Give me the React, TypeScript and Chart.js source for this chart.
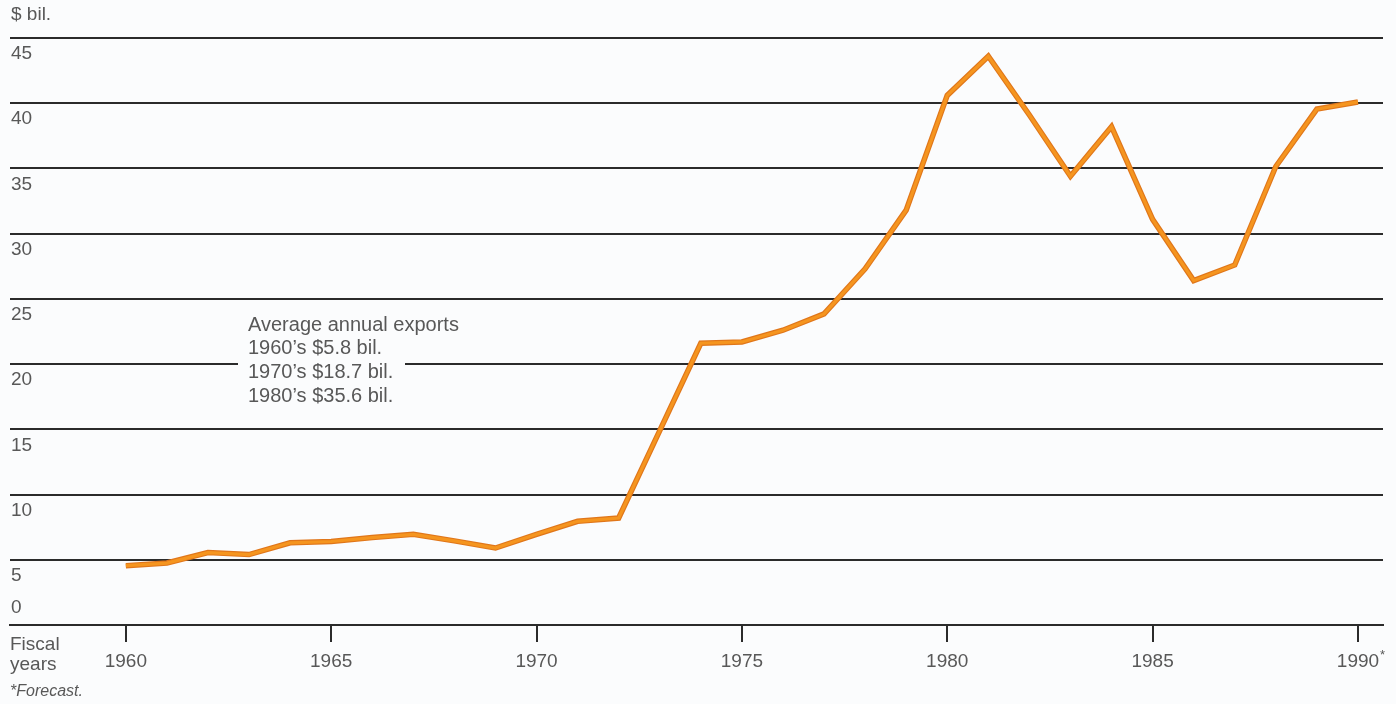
import React, { useEffect, useRef } from "react";
import { Chart, registerables } from "chart.js";

Chart.register(...registerables);

// Fiscal years and exports, $ billions
const years: number[] = [
  1960, 1961, 1962, 1963, 1964, 1965, 1966, 1967, 1968, 1969,
  1970, 1971, 1972, 1973, 1974, 1975, 1976, 1977, 1978, 1979,
  1980, 1981, 1982, 1983, 1984, 1985, 1986, 1987, 1988, 1989, 1990,
];
const exportsBil: number[] = [
  4.55, 4.75, 5.55, 5.4, 6.3, 6.4, 6.7, 6.95, 6.45, 5.9,
  6.95, 7.95, 8.2, 14.9, 21.6, 21.7, 22.6, 23.85, 27.3, 31.8,
  40.6, 43.6, 39.1, 34.4, 38.2, 31.1, 26.4, 27.6, 35.15, 39.55, 40.1,
];
const yTicks: number[] = [0, 5, 10, 15, 20, 25, 30, 35, 40, 45];
const xTicks: number[] = [1960, 1965, 1970, 1975, 1980, 1985, 1990];
const forecastYear = 1990;
const averageLines: string[] = [
  "Average annual exports",
  "1960\u2019s $5.8 bil.",
  "1970\u2019s $18.7 bil.",
  "1980\u2019s $35.6 bil.",
];

const BG = "#fbfcfd";
const TEXT = "#585858";
const RULE = "#2b2b2b";
const FONT = "'Liberation Sans', Arial, sans-serif";

const textPlugin = {
  id: "exportText",
  beforeDraw(chart: any) {
    const { ctx } = chart;
    ctx.save();
    ctx.fillStyle = BG;
    ctx.fillRect(0, 0, chart.width, chart.height);
    ctx.restore();
  },
  afterDraw(chart: any) {
    const { ctx, scales } = chart;
    const ys = scales.y;
    const xs = scales.x;
    ctx.save();
    ctx.fillStyle = TEXT;
    ctx.textBaseline = "middle";
    ctx.font = `19px ${FONT}`;

    // unit label
    ctx.textAlign = "left";
    ctx.fillText("$ bil.", 11, 15);

    // value labels sit under their rule; zero sits above the base line
    yTicks.forEach((v) => {
      const py = ys.getPixelForValue(v) + (v === 0 ? -17 : 16);
      ctx.fillText(String(v), 11, py);
    });

    // year labels
    ctx.textAlign = "center";
    xTicks.forEach((yr) => {
      const px = xs.getPixelForValue(yr);
      ctx.fillText(String(yr), px, 662);
      if (yr === forecastYear) {
        const w = ctx.measureText(String(yr)).width;
        ctx.save();
        ctx.font = `13px ${FONT}`;
        ctx.textAlign = "left";
        ctx.fillText("*", px + w / 2 + 1, 655);
        ctx.restore();
      }
    });

    ctx.textAlign = "left";
    ctx.fillText("Fiscal", 10, 645);
    ctx.fillText("years", 10, 665);

    ctx.font = `italic 16px ${FONT}`;
    ctx.fillText("*Forecast.", 10, 692);

    // averages note, on a clear patch over the 20 rule
    const r20 = ys.getPixelForValue(20);
    ctx.fillStyle = BG;
    ctx.fillRect(238, r20 - 4, 167, 8);
    ctx.fillStyle = TEXT;
    ctx.font = `20px ${FONT}`;
    averageLines.forEach((line, i) => {
      ctx.fillText(line, 248, 325 + i * 23.7);
    });
    ctx.restore();
  },
};

export default function App() {
  const ref = useRef<HTMLCanvasElement | null>(null);

  useEffect(() => {
    document.body.style.margin = "0";
    document.body.style.background = BG;
    const canvas = ref.current;
    if (!canvas) return;
    const points = years.map((yr, i) => ({ x: yr, y: exportsBil[i] }));
    const chart = new Chart(canvas, {
      type: "line",
      data: {
        datasets: [
          {
            data: points,
            borderColor: "#e0761a",
            borderWidth: 5.5,
            pointRadius: 0,
            tension: 0,
            borderJoinStyle: "miter",
            order: 2,
          },
          {
            data: points,
            borderColor: "#f5951f",
            borderWidth: 3.2,
            pointRadius: 0,
            tension: 0,
            borderJoinStyle: "miter",
            order: 1,
          },
        ],
      },
      options: {
        responsive: false,
        animation: false,
        events: [],
        layout: { padding: { left: 10, right: 13, top: 38, bottom: 62 } },
        plugins: {
          legend: { display: false },
          tooltip: { enabled: false },
        },
        scales: {
          x: {
            type: "linear",
            min: 1957.18,
            max: 1990.61,
            afterBuildTicks: (scale: any) => {
              scale.ticks = xTicks.map((v) => ({ value: v }));
            },
            ticks: { display: false },
            grid: {
              drawOnChartArea: false,
              drawTicks: true,
              tickLength: 17,
              color: RULE,
              lineWidth: 2,
            },
            border: { display: true, color: RULE, width: 2 },
          },
          y: {
            type: "linear",
            min: 0,
            max: 45,
            ticks: { display: false, stepSize: 5 },
            grid: { drawTicks: false, color: RULE, lineWidth: 2 },
            border: { display: false },
          },
        },
      },
      plugins: [textPlugin],
    } as any);
    return () => chart.destroy();
  }, []);

  return (
    <div style={{ position: "fixed", left: 0, top: 0, width: 1396, height: 704, background: BG }}>
      <canvas ref={ref} width={1396} height={704} style={{ display: "block" }} />
    </div>
  );
}
